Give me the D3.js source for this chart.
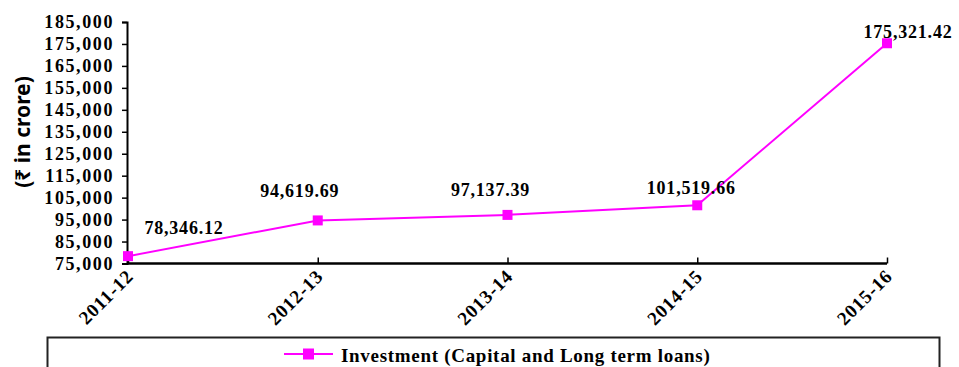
<!DOCTYPE html>
<html>
<head>
<meta charset="utf-8">
<script src="https://cdn.jsdelivr.net/npm/d3@7"></script>
<style>
  body { margin: 0; background: #fff; }
  svg { display: block; }
  .tick text, .lbl, .legend text { font-family: "Liberation Serif", "Times New Roman", serif; font-weight: bold; fill: #000; }
</style>
</head>
<body>
<div id="chart"></div>
<script>
// chart data
var years = ["2011-12", "2012-13", "2013-14", "2014-15", "2015-16"];
var investment = [78346.12, 94619.69, 97137.39, 101519.66, 175321.42];
var yTicks = [75000, 85000, 95000, 105000, 115000, 125000, 135000, 145000, 155000, 165000, 175000, 185000];
var seriesName = "Investment (Capital and Long term loans)";

// label nudges (px), relative to each point
var labelNudge = [[56, -28], [-18, -30], [-17, -25], [-6, -18], [21, -12]];

var width = 959, height = 367,
    margin = {top: 22, left: 127, right: 72, bottom: 104},
    color = "#ff00ff";

var svg = d3.select("#chart").append("svg")
    .attr("width", width).attr("height", height);

var x = d3.scalePoint().domain(years)
    .range([margin.left + 1, width - margin.right]);
var y = d3.scaleLinear().domain([75000, 185000])
    .range([height - margin.bottom + 0.5, margin.top]);

var fmt = d3.format(",");

// y axis
var yAxis = svg.append("g")
    .attr("transform", "translate(" + margin.left + ",0)")
    .call(d3.axisLeft(y).tickValues(yTicks).tickFormat(fmt).tickSize(5).tickPadding(8));
yAxis.select(".domain").attr("stroke", "#000").attr("stroke-width", 2);
yAxis.selectAll(".tick line").attr("stroke-width", 1.5);
yAxis.selectAll(".tick text")
    .style("font-size", "18px").style("letter-spacing", "1.6px");

// x axis, ticks pointing up
var xAxis = svg.append("g")
    .attr("transform", "translate(0," + y(75000) + ")")
    .call(d3.axisBottom(x).tickSize(-6).tickSizeOuter(0).tickPadding(0));
xAxis.select(".domain").attr("stroke", "#000").attr("stroke-width", 2.5)
    .attr("d", "M" + margin.left + ",0H" + x(years[years.length - 1]));
xAxis.selectAll(".tick line").attr("stroke-width", 1.5);
xAxis.selectAll(".tick text")
    .style("font-size", "19px").style("letter-spacing", "0.8px")
    .attr("text-anchor", "end")
    .attr("dy", "0")
    .attr("transform", "translate(6,14) rotate(-45)");

// series line
var line = d3.line()
    .x(function(d, i) { return x(years[i]); })
    .y(function(d) { return y(d); });

svg.append("path")
    .datum(investment)
    .attr("fill", "none")
    .attr("stroke", color)
    .attr("stroke-width", 2)
    .attr("d", line);

svg.selectAll("rect.pt").data(investment).enter().append("rect")
    .attr("class", "pt")
    .attr("x", function(d, i) { return x(years[i]) - 5; })
    .attr("y", function(d) { return y(d) - 5; })
    .attr("width", 10).attr("height", 10)
    .attr("fill", color);

svg.selectAll("text.lbl").data(investment).enter().append("text")
    .attr("class", "lbl")
    .attr("x", function(d, i) { return x(years[i]) + labelNudge[i][0]; })
    .attr("y", function(d, i) { return y(d) + labelNudge[i][1]; })
    .attr("text-anchor", "middle")
    .attr("dy", "0.35em")
    .style("font-size", "18px").style("letter-spacing", "0.8px")
    .text(function(d) { return d3.format(",.2f")(d); });

// y axis title
svg.append("text")
    .attr("transform", "translate(30,132) rotate(-90)")
    .attr("text-anchor", "middle")
    .style("font-family", "'Noto Sans', 'DejaVu Sans', sans-serif")
    .style("font-size", "21px")
    .style("font-weight", "bold")
    .text("(\u20B9 in crore)");

// legend box
var legend = svg.append("g").attr("class", "legend");
legend.append("rect")
    .attr("x", 47.5).attr("y", 337.5)
    .attr("width", 892).attr("height", 40)
    .attr("fill", "none").attr("stroke", "#222").attr("stroke-width", 2);
legend.append("line")
    .attr("x1", 284).attr("x2", 333).attr("y1", 354).attr("y2", 354)
    .attr("stroke", color).attr("stroke-width", 2);
legend.append("rect")
    .attr("x", 303).attr("y", 348.5).attr("width", 11).attr("height", 11)
    .attr("fill", color);
legend.append("text")
    .attr("x", 341).attr("y", 362)
    .style("font-size", "19px").style("letter-spacing", "0.7px")
    .text(seriesName);
</script>
</body>
</html>
